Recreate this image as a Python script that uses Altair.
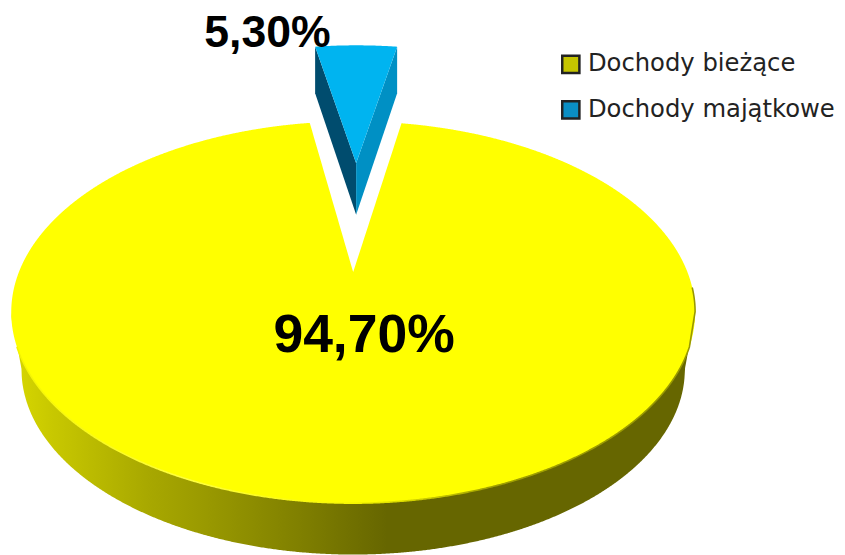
import numpy as np
import pandas as pd
import altair as alt

CATEGORIES = ["Dochody bieżące", "Dochody majątkowe"]
SHARES = [94.70, 5.30]
LABELS = ["94,70%", "5,30%"]
LEGEND_COLORS = ["#c4c400", "#0a8ec4"]

# perspective model of the pie (pixel-like scale units)
CX, A, B, C, K = 353.0, 127.4, 270.0, -0.2104, 337.5
EXPLODE = 0.683
S, NY = 0.97, 2233.0
TILT = 0.009


def project(u, v, cx=CX):
    d = 1 + C * v
    return cx + K * u / d, (A * v + B) / d


half = SHARES[1] / 100 * np.pi
sc_x = alt.Scale(domain=[4.5, 841.5], nice=False, zero=False)
sc_y = alt.Scale(domain=[553, 6], nice=False, zero=False)

# yellow slice outline
phi = np.linspace(half + TILT, 2 * np.pi - half + TILT, 1800)
px, py = project(np.sin(phi), -np.cos(phi))
imax, imin = int(np.argmax(px)), int(np.argmin(px))
apex_x, apex_y = project(0.0, 0.0)
ux = np.concatenate([px[imin:], [apex_x], px[: imax + 1]])
uy = np.concatenate([py[imin:], [apex_y], py[: imax + 1]])
lx, ly = px[imax:imin + 1][::-1], py[imax:imin + 1][::-1]
grid = np.unique(np.concatenate([ux, lx]))
yellow = pd.DataFrame({"x": grid, "y": np.interp(grid, ux, uy), "y2": np.interp(grid, lx, ly)})

# side band
bx = CX + (lx - CX) * S
by = NY + (ly - NY) * S
ex = np.concatenate([[lx[0]], bx, [lx[-1]]])
ey = np.concatenate([[ly[0]], by, [ly[-1]]])
side = pd.DataFrame({"x": lx, "y": np.interp(lx, ex, ey), "y2": ly - 4})
side_grad = alt.LinearGradient(
    gradient="linear",
    stops=[
        alt.GradientStop(color="#d8d800", offset=0.0),
        alt.GradientStop(color="#c8c800", offset=0.06),
        alt.GradientStop(color="#b8b800", offset=0.13),
        alt.GradientStop(color="#a8a800", offset=0.20),
        alt.GradientStop(color="#9a9a00", offset=0.28),
        alt.GradientStop(color="#808000", offset=0.42),
        alt.GradientStop(color="#666600", offset=0.55),
        alt.GradientStop(color="#666600", offset=1.0),
    ],
    x1=0, x2=1, y1=0, y2=0,
)

# soft rim between the top face and the side, fading out up the right edge
keep_low = ly > 345
keep_up = (np.arange(px.size) < imax) & (py > 285)
rx = np.concatenate([lx[keep_low], px[keep_up][::-1]])
ry = np.concatenate([ly[keep_low], py[keep_up][::-1]])
rim = pd.DataFrame({"x": rx, "y": ry, "i": np.arange(rx.size)})
rim_grad = alt.LinearGradient(
    gradient="linear",
    stops=[
        alt.GradientStop(color="#f4f400", offset=0.0),
        alt.GradientStop(color="#ffff40", offset=0.25),
        alt.GradientStop(color="#f8f800", offset=0.5),
        alt.GradientStop(color="#a0a000", offset=0.7),
        alt.GradientStop(color="#989800", offset=1.0),
    ],
    x1=0, x2=1, y1=0, y2=0,
)

# exploded blue slice
WCX = 356.0
wphi = np.linspace(-half, half, 41)
wx, wy = project(np.sin(wphi), -np.cos(wphi) - EXPLODE, WCX)
wax, way = project(0.0, -EXPLODE, WCX)
RIM_DROP, APEX_DROP = 47.0, 52.0
wtop = pd.DataFrame({
    "x": wx, "y": wy,
    "y2": np.where(wx <= wax,
                   wy[0] + (way - wy[0]) * (wx - wx[0]) / (wax - wx[0]),
                   wy[-1] + (way - wy[-1]) * (wx[-1] - wx) / (wx[-1] - wax)),
})
wleft = pd.DataFrame({"x": [wx[0], wax], "y": [wy[0], way], "y2": [wy[0] + RIM_DROP, way + APEX_DROP]})
wright = pd.DataFrame({"x": [wax, wx[-1]], "y": [way, wy[-1]], "y2": [way + APEX_DROP, wy[-1] + RIM_DROP]})


def area(df, color):
    return alt.Chart(df).mark_area(color=color, interpolate="linear").encode(
        x=alt.X("x:Q", scale=sc_x, axis=None),
        y=alt.Y("y:Q", scale=sc_y, axis=None),
        y2="y2:Q",
    )


rim_line = alt.Chart(rim).mark_line(stroke=rim_grad, strokeWidth=1.6).encode(
    x=alt.X("x:Q", scale=sc_x, axis=None),
    y=alt.Y("y:Q", scale=sc_y, axis=None),
    order=alt.Order("i:Q"),
)

labels_df = pd.DataFrame({"t": LABELS, "x": [364, 266.5], "y": [335, 29], "s": [54, 45]})
texts = alt.Chart(labels_df).mark_text(font="Liberation Sans", fontWeight="bold", color="#000000", align="center", baseline="middle").encode(
    x=alt.X("x:Q", scale=sc_x, axis=None),
    y=alt.Y("y:Q", scale=sc_y, axis=None),
    text="t:N",
    size=alt.Size("s:Q", scale=None, legend=None),
)

legend_df = pd.DataFrame({"c": CATEGORIES, "x": [400, 400], "y": [300, 300]})
legend = alt.Chart(legend_df).mark_square(size=0, opacity=1).encode(
    x=alt.X("x:Q", scale=sc_x, axis=None),
    y=alt.Y("y:Q", scale=sc_y, axis=None),
    color=alt.Color(
        "c:N",
        scale=alt.Scale(domain=CATEGORIES, range=LEGEND_COLORS),
        legend=alt.Legend(
            title=None, orient="none", legendX=556, legendY=42,
            symbolType="square", symbolSize=300, symbolStrokeColor="#222222",
            symbolStrokeWidth=2.5, symbolOpacity=1,
            labelFont="DejaVu Sans", labelFontSize=24.5, labelColor="#222222",
            rowPadding=18, labelOffset=5, labelLimit=300,
        ),
    ),
)

chart = alt.layer(
    area(side, side_grad),
    area(yellow, "#ffff00"),
    rim_line,
    area(wleft, "#004c6e"),
    area(wright, "#0090c4"),
    area(wtop, "#00b4f0"),
    texts,
    legend,
).properties(
    width=837, height=547, padding=0,
    autosize=alt.AutoSizeParams(type="none"),
    background="#ffffff",
).configure_view(stroke=None)

chart.save("out.html", embed_options={"renderer": "svg", "actions": False})
